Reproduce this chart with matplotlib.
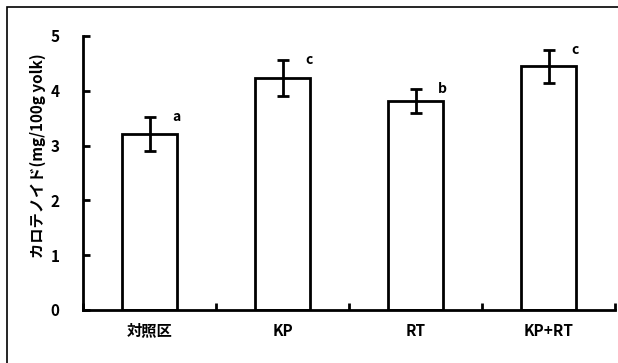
import matplotlib.pyplot as plt
import numpy as np
from matplotlib.patches import Rectangle

plt.rcParams['font.family'] = ['Noto Sans CJK JP', 'DejaVu Sans']
plt.rcParams['font.weight'] = 'bold'

# data
groups = ['対照区', 'KP', 'RT', 'KP+RT']
means = [3.22, 4.23, 3.82, 4.45]
errs = [0.31, 0.33, 0.22, 0.30]
letters = ['a', 'c', 'b', 'c']

fig = plt.figure(figsize=(6.18, 3.63), dpi=100)
fig.patch.set_facecolor('white')

# outer frame (cropped at right/bottom like the original)
fig.patches.append(Rectangle((7 / 618, -0.1), 1.2, (363 - 7) / 363 + 0.1,
                             transform=fig.transFigure, fill=False,
                             edgecolor='black', linewidth=1.2))

ax = fig.add_axes([83 / 618, 1 - 310 / 363, (615 - 83) / 618, (310 - 36) / 363])

x = np.arange(len(groups))
ax.bar(x, means, width=0.41, color='white', edgecolor='black', linewidth=2, zorder=2)
ax.errorbar(x, means, yerr=errs, fmt='none', ecolor='black', elinewidth=2,
            capsize=4.5, capthick=2, zorder=3)

# significance letters
for i in range(len(groups)):
    ax.text(x[i] + 0.2, means[i] + errs[i], letters[i], ha='center', va='center',
            fontsize=10, fontweight='bold')

ax.set_xlim(-0.5, 3.5)
ax.set_ylim(0, 5)
ax.set_yticks([0, 1, 2, 3, 4, 5])
ax.set_xticks(x)
ax.set_xticklabels(groups, fontsize=11, fontweight='bold')
ax.set_xticks(np.arange(-0.5, 4, 1), minor=True)
ax.tick_params(axis='x', which='major', length=0, pad=9)
ax.tick_params(axis='x', which='minor', direction='in', length=5, width=2)
ax.tick_params(axis='y', direction='in', length=5, width=2, labelsize=11, pad=17)
for lab in ax.get_yticklabels():
    lab.set_fontweight('bold')

ax.spines['top'].set_visible(False)
ax.spines['right'].set_visible(False)
ax.spines['left'].set_linewidth(2)
ax.spines['bottom'].set_linewidth(2)

ax.set_ylabel('カロテノイド(mg/100g yolk)', fontsize=11, fontweight='bold')
ax.yaxis.set_label_coords(-0.07, 0.565)

fig.savefig('out.png', dpi=100)
